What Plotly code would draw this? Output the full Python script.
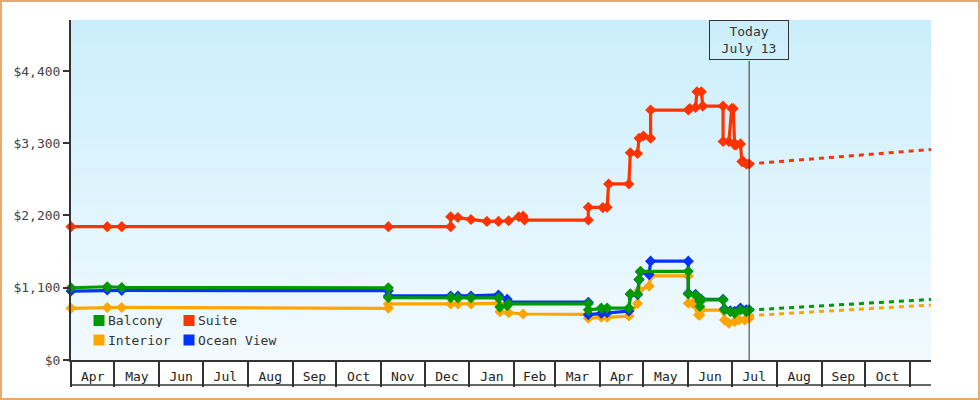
import plotly.graph_objects as go
import zlib, struct, base64

# ---------------- data ----------------
suite_dates = ["2013-04-01", "2013-04-26", "2013-05-06", "2013-11-06", "2013-12-19", "2013-12-19",
               "2013-12-24", "2014-01-02", "2014-01-13", "2014-01-21", "2014-01-28", "2014-02-04",
               "2014-02-07", "2014-02-08", "2014-03-24", "2014-03-24", "2014-04-03", "2014-04-06",
               "2014-04-07", "2014-04-21", "2014-04-22", "2014-04-27", "2014-04-28", "2014-05-01",
               "2014-05-06", "2014-05-06", "2014-06-01", "2014-06-02", "2014-06-06", "2014-06-07",
               "2014-06-10", "2014-06-11", "2014-06-25", "2014-06-25", "2014-06-29", "2014-07-01",
               "2014-07-02", "2014-07-03", "2014-07-04", "2014-07-07", "2014-07-08", "2014-07-09",
               "2014-07-11", "2014-07-13"]
suite_prices = [2030, 2030, 2030, 2030, 2030, 2180, 2170, 2140, 2110, 2110, 2120, 2180, 2190, 2130,
                2130, 2325, 2320, 2325, 2680, 2680, 3155, 3145, 3375, 3410, 3375, 3805, 3805, 3830,
                3845, 4085, 4085, 3865, 3865, 3325, 3325, 3830, 3830, 3275, 3275, 3290, 3020, 3020,
                2985, 2985]

balcony_dates = ["2013-04-01", "2013-04-26", "2013-05-06", "2013-11-06", "2013-11-06", "2013-12-19",
                 "2013-12-24", "2014-01-02", "2014-01-21", "2014-01-22", "2014-01-27", "2014-01-28",
                 "2014-03-24", "2014-03-24", "2014-04-02", "2014-04-06", "2014-04-21", "2014-04-22",
                 "2014-04-27", "2014-04-28", "2014-04-29", "2014-06-01", "2014-06-01", "2014-06-06",
                 "2014-06-09", "2014-06-09", "2014-06-10", "2014-06-25", "2014-06-26", "2014-06-30",
                 "2014-07-03", "2014-07-07", "2014-07-11", "2014-07-13"]
balcony_prices = [1100, 1115, 1105, 1100, 950, 950, 945, 945, 945, 805, 825, 855, 855, 765, 790,
                  790, 790, 1010, 1005, 1230, 1350, 1350, 1005, 990, 890, 815, 915, 915, 760, 735,
                  710, 760, 735, 760]

ocean_dates = ["2013-04-01", "2013-04-26", "2013-05-06", "2013-11-06", "2013-11-06", "2013-12-19",
               "2013-12-24", "2014-01-02", "2014-01-21", "2014-01-27", "2014-01-28", "2014-03-24",
               "2014-03-24", "2014-04-02", "2014-04-06", "2014-04-21", "2014-04-22", "2014-04-27",
               "2014-04-28", "2014-04-29", "2014-05-05", "2014-05-06", "2014-06-01", "2014-06-01",
               "2014-06-06", "2014-06-09", "2014-06-10", "2014-06-25", "2014-06-26", "2014-06-30",
               "2014-07-03", "2014-07-07", "2014-07-11", "2014-07-13"]
ocean_prices = [1050, 1065, 1060, 1055, 975, 975, 975, 975, 990, 925, 880, 880, 690, 710, 720,
                745, 1000, 995, 1220, 1340, 1300, 1505, 1505, 1015, 1000, 900, 925, 925, 775, 750,
                740, 790, 765, 765]

interior_dates = ["2013-04-01", "2013-04-26", "2013-05-06", "2013-11-06", "2013-11-06", "2013-12-19",
                  "2013-12-24", "2014-01-02", "2014-01-21", "2014-01-22", "2014-01-28", "2014-02-07",
                  "2014-03-24", "2014-03-24", "2014-04-02", "2014-04-06", "2014-04-21", "2014-04-27",
                  "2014-04-28", "2014-05-05", "2014-05-06", "2014-06-01", "2014-06-01", "2014-06-04",
                  "2014-06-08", "2014-06-09", "2014-06-10", "2014-06-25", "2014-06-26", "2014-06-29",
                  "2014-07-03", "2014-07-06", "2014-07-10", "2014-07-13"]
interior_prices = [787, 800, 800, 787, 853, 853, 853, 853, 863, 735, 720, 700, 695, 635, 650, 650,
                   670, 860, 1065, 1125, 1280, 1280, 865, 865, 685, 685, 760, 760, 610, 560, 585,
                   610, 610, 635]

proj_dates = ["2014-07-13", "2014-11-15 12:00"]
suite_proj = [2985, 3205]
balcony_proj = [760, 922]
interior_proj = [675, 837]

y_ticks = [0, 1100, 2200, 3300, 4400]
y_ticktext = ["$" + format(v, ",") for v in y_ticks]
x_range = ["2013-04-01", "2014-11-15 12:00"]
y_range = [0, 5176]
today_date = "2014-07-13"
today_text = "Today<br>July 13"

legend_rows = [["Balcony", "Suite"], ["Interior", "Ocean View"]]
colors = {"Balcony": "#009900", "Suite": "#ff3300", "Interior": "#ffa500", "Ocean View": "#0033ff"}

# ---------------- layout helpers ----------------
W, H = 980, 400
ML, MR, MT, MB = 71, 49, 20, 40
PW, PH = W - ML - MR, H - MT - MB
FONT = "DejaVu Sans Mono"


def px_x(px):
    return (px - ML) / PW


def px_y(py):
    return (H - MB - py) / PH


def gradient_png(h, top, bot):
    raw = b""
    for i in range(h):
        t = i / (h - 1)
        c = bytes(round(top[k] + (bot[k] - top[k]) * t) for k in range(3))
        raw += b"\x00" + c + c
    def chunk(tag, data):
        return (struct.pack(">I", len(data)) + tag + data +
                struct.pack(">I", zlib.crc32(tag + data) & 0xffffffff))
    png = (b"\x89PNG\r\n\x1a\n" +
           chunk(b"IHDR", struct.pack(">IIBBBBB", 2, h, 8, 2, 0, 0, 0)) +
           chunk(b"IDAT", zlib.compress(raw)) + chunk(b"IEND", b""))
    return "data:image/png;base64," + base64.b64encode(png).decode()


fig = go.Figure()

# projections (dotted)
for name, vals in [("Interior", interior_proj), ("Balcony", balcony_proj), ("Suite", suite_proj)]:
    fig.add_trace(go.Scatter(x=proj_dates, y=vals, mode="lines", showlegend=False, hoverinfo="skip",
                             line=dict(color=colors[name], width=3, dash="5px,5px")))

for name, xs, ys in [("Interior", interior_dates, interior_prices),
                     ("Ocean View", ocean_dates, ocean_prices),
                     ("Balcony", balcony_dates, balcony_prices),
                     ("Suite", suite_dates, suite_prices)]:
    fig.add_trace(go.Scatter(x=xs, y=ys, name=name, mode="lines+markers", showlegend=False,
                             cliponaxis=False,
                             line=dict(color=colors[name], width=3.2),
                             marker=dict(symbol="diamond", size=8.5, color=colors[name])))

shapes = []
annotations = []

# today line + label
shapes.append(dict(type="line", xref="x", yref="paper", x0=today_date, x1=today_date,
                   y0=0, y1=px_y(61), line=dict(color="#333333", width=1)))
annotations.append(dict(x=today_date, xref="x", y=1, yref="paper", yanchor="top", xanchor="center",
                        text=today_text, showarrow=False, bordercolor="#333333", borderwidth=1,
                        borderpad=2, width=74, height=34,
                        font=dict(family=FONT, size=13, color="#333333")))

# month box bottom line
shapes.append(dict(type="line", xref="paper", yref="paper", x0=px_x(70), x1=1,
                   y0=px_y(385), y1=px_y(385), line=dict(color="#333333", width=1.5)))

# outer border
shapes.append(dict(type="rect", xref="paper", yref="paper", x0=px_x(1), x1=px_x(979),
                   y0=px_y(399), y1=px_y(1), line=dict(color="#e9a96a", width=2)))

# manual legend
col_sq = [93.5, 183.5]
row_cy = [320.5, 340]
for r, row in enumerate(legend_rows):
    for c, name in enumerate(row):
        shapes.append(dict(type="rect", xref="paper", yref="paper",
                           x0=px_x(col_sq[c]), x1=px_x(col_sq[c] + 11),
                           y0=px_y(row_cy[r] + 5.5), y1=px_y(row_cy[r] - 5.5),
                           fillcolor=colors[name], line=dict(width=0)))
        annotations.append(dict(x=px_x(col_sq[c] + 12.5), y=px_y(row_cy[r]), xref="paper", yref="paper",
                                xanchor="left", yanchor="middle", text=name, showarrow=False,
                                font=dict(family=FONT, size=13, color="#333333")))

fig.update_layout(
    template="none",
    width=W, height=H,
    margin=dict(l=ML, r=MR, t=MT, b=MB, pad=0),
    paper_bgcolor="white",
    plot_bgcolor="rgba(0,0,0,0)",
    showlegend=False,
    font=dict(family=FONT, size=13, color="#333333"),
    images=[dict(source=gradient_png(256, (203, 238, 252), (242, 250, 255)),
                 xref="paper", yref="paper", x=0, y=1, sizex=1, sizey=1,
                 sizing="stretch", xanchor="left", yanchor="top", layer="below")],
    shapes=shapes,
    annotations=annotations,
    xaxis=dict(type="date", range=x_range, tick0="2013-04-01", dtick="M1", tickformat="%b",
               ticklabelmode="period", ticks="outside", ticklen=25, tickwidth=1.5,
               tickcolor="#333333", showline=True, linewidth=2, linecolor="#333333",
               showgrid=False, zeroline=False, ticklabelstandoff=-22, automargin=False,
               tickfont=dict(family=FONT, size=13, color="#222222")),
    yaxis=dict(range=y_range, tickmode="array", tickvals=y_ticks, ticktext=y_ticktext,
               ticks="outside", ticklen=6, tickwidth=2, tickcolor="#333333",
               showline=True, linewidth=2, linecolor="#333333", showgrid=False,
               zeroline=False, automargin=False,
               tickfont=dict(family=FONT, size=13, color="#444444")),
)

fig.write_html("out.html")
